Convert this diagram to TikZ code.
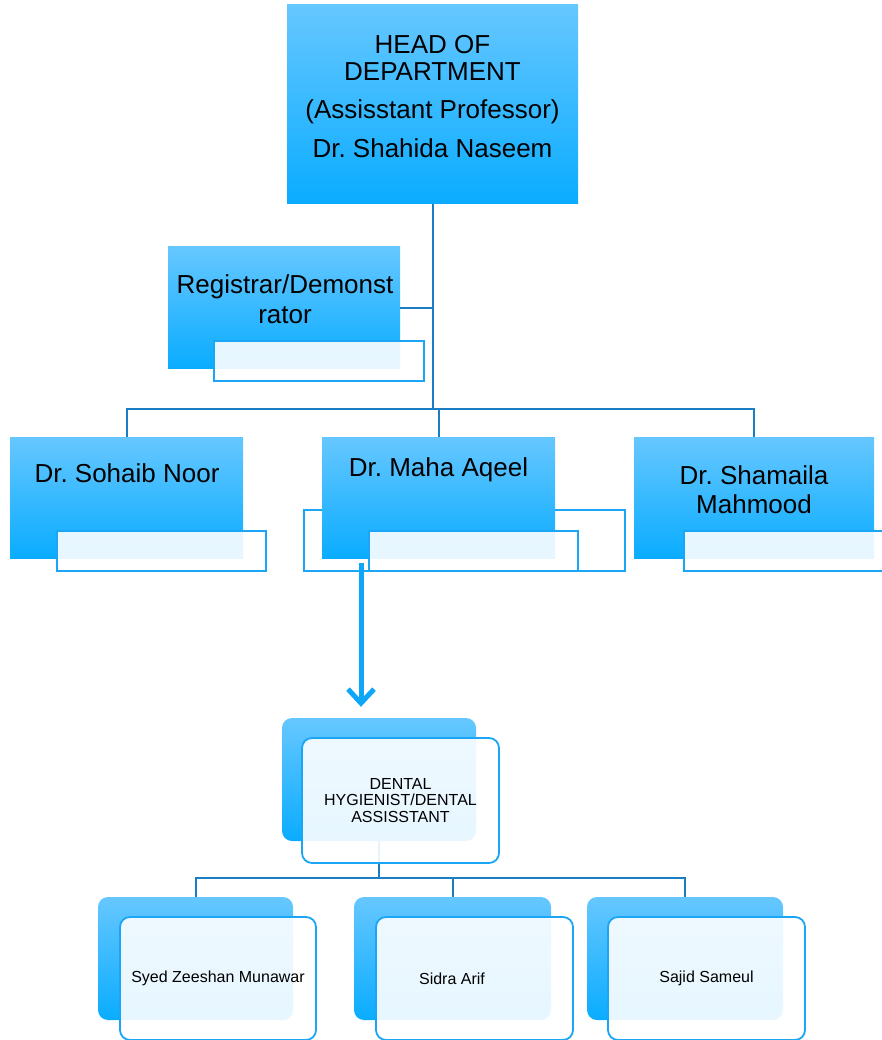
\documentclass[tikz,border=0pt]{standalone}
\usepackage{fontspec}
\setmainfont{Liberation Sans}
\usetikzlibrary{arrows.meta, positioning, calc}
\definecolor{boxtop}{HTML}{66C7FF}
\definecolor{boxbottom}{HTML}{0AACFF}
\definecolor{edgeblue}{HTML}{1AA6F5}
\definecolor{linkblue}{HTML}{1B7EC2}
\definecolor{arrowblue}{HTML}{0FA6FA}
\frenchspacing

\begin{document}
\begin{tikzpicture}[
    x=1pt, y=-1pt,
    rankbox/.style={rectangle, top color=boxtop, bottom color=boxbottom, minimum width=233, minimum height=121, inner sep=0pt},
    tagbox/.style={rectangle, draw=edgeblue, line width=1.5pt, fill=white, fill opacity=0.9, minimum width=209, minimum height=40, inner sep=0pt},
    backcard/.style={rectangle, rounded corners=10pt, top color=boxtop, bottom color=boxbottom, minimum width=195, minimum height=123, inner sep=0pt},
    frontcard/.style={rectangle, rounded corners=10pt, draw=edgeblue, line width=1.8pt, fill=white, fill opacity=0.9, text opacity=1, minimum width=196, minimum height=123, inner sep=0pt, align=center, font=\fontsize{16}{16.5}\selectfont},
    bigtext/.style={align=center, font=\fontsize{26}{29}\selectfont, anchor=base, inner sep=0pt},
    link/.style={draw=linkblue, line width=2pt},
    downarrow/.style={-{Straight Barb[length=14pt,width=26pt]}, line width=5pt, draw=arrowblue}
]
\clip (0,0) rectangle (882,1040);

% head and registrar
\node[rankbox, minimum width=291, minimum height=199] (hod) at (432.5,104.5) {};
\node[bigtext, font=\fontsize{26}{27}\selectfont] (hodtxt) at (432.5,158) {HEAD OF\\DEPARTMENT\\[11pt](Assisstant Professor)\\[12pt]Dr. Shahida Naseem};
\node[rankbox, minimum width=232] (reg) at (284,307.5) {};
\node[tagbox, minimum width=210] (regtag) at (319,361) {};
\node[bigtext] (regtxt) at (285,323) {Registrar/Demonst\\rator};

% faculty row
\node[draw=edgeblue, line width=1.5pt, minimum width=321, minimum height=61, inner sep=0pt] (mahaframe) at (464.5,540.5) {};
\node[rankbox] (sohaib) at (126.5,497.5) {};
\node[rankbox] (maha) at (438.5,497.5) {};
\node[rankbox, minimum width=240] (shamaila) at (754,497.5) {};
\node[tagbox] (sohaibtag) at (161.5,551) {};
\node[tagbox] (mahatag) at (473.5,551) {};
\node[tagbox] (shamailatag) at (788.5,551) {};
\node[bigtext] (sohaibtxt) at (127,482) {Dr. Sohaib Noor};
\node[bigtext] (mahatxt) at (438.5,476) {Dr. Maha Aqeel};
\node[bigtext] (shamailatxt) at (754,513) {Dr. Shamaila\\Mahmood};

\coordinate (topbar) at (432.5,409);
\draw[link] (hod.south) -- (topbar);
\draw[link] (hod.south |- reg.east) -- (reg.east);
\foreach \n in {sohaib,maha,shamaila}
    \draw[link] (topbar) -| (\n.north);

% dental staff
\node[backcard, minimum width=194] (dentalback) at (379,779.5) {};
\node[backcard] (syedback) at (195.5,958.5) {};
\node[backcard, minimum width=197] (sidraback) at (452.5,958.5) {};
\node[backcard, minimum width=196] (sajidback) at (685,958.5) {};

\coordinate (arrowstart) at (361,563);
\draw[downarrow, shorten >=11pt] (arrowstart) -- (arrowstart |- dentalback.north);

\coordinate (lowbar) at (379,878);
\draw[link] (dentalback.south) -- (lowbar);
\foreach \n in {syedback,sidraback,sajidback}
    \draw[link] (lowbar) -| (\n.north);

\node[frontcard, minimum width=197, minimum height=125] (dental) at (400.5,800.5) {DENTAL\\HYGIENIST/DENTAL\\ASSISSTANT};
\node[frontcard] (syed) at (218,978.5) {Syed Zeeshan Munawar};
\node[frontcard, minimum width=197] (sidra) at (474.5,978.5) {Sidra Arif\hspace*{45pt}};
\node[frontcard, minimum width=197] (sajid) at (706.5,978.5) {Sajid Sameul};
\end{tikzpicture}
\end{document}
